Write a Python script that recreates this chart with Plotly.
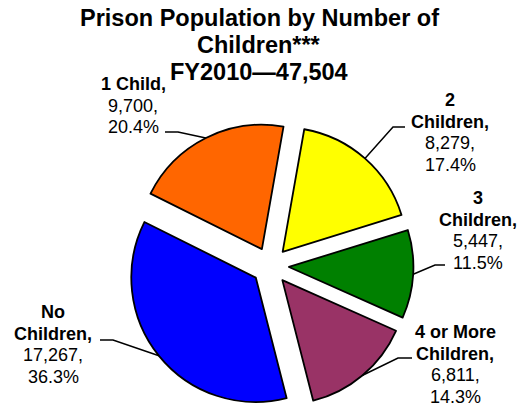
import math
import plotly.graph_objects as go

# Inmates by number of children, FY2010 (clockwise from just right of 12 o'clock)
categories = ["2 Children", "3 Children", "4 or More Children", "No Children", "1 Child"]
counts = [8279, 5447, 6811, 17267, 9700]
colors = ["#FFFF00", "#008000", "#993366", "#0000FF", "#FF6600"]
# Bold part of each label, split into lines
name_lines = [["2", "Children,"], ["3", "Children,"], ["4 or More", "Children,"],
              ["No", "Children,"], ["1 Child,"]]
title_lines = ["Prison Population by Number of", "Children***", "FY2010\u201447,504"]

W, H = 530, 409
ROTATION = 10
PULL = 0.15
DOM_X = [0.22, 0.80]
DOM_Y = [0.0, 0.70]
FONT = "Liberation Sans, Arial, sans-serif"

# Label layout: text centre x, first-line middle y, leader end at label, elbow point
label_layout = [
    dict(x=450, y=100, anchor=(405, 127), elbow=(393, 127)),
    dict(x=478, y=198, anchor=(445, 265), elbow=(435, 265)),
    dict(x=455, y=332, anchor=(412, 358), elbow=(398, 358)),
    dict(x=53, y=312, anchor=(100, 340), elbow=(113, 340)),
    dict(x=133, y=84, anchor=(165, 132), elbow=(178, 132)),
]
LINE_STEP = 21.7

fig = go.Figure(go.Pie(
    labels=categories, values=counts, sort=False, direction="clockwise",
    rotation=ROTATION, pull=[PULL] * len(counts),
    marker=dict(colors=colors, line=dict(color="black", width=1.8)),
    textinfo="none", hoverinfo="label+value+percent", showlegend=False,
    domain=dict(x=DOM_X, y=DOM_Y),
))

# Pie geometry in pixels (same rule plotly uses to size a pulled pie)
box_w = (DOM_X[1] - DOM_X[0]) * W
box_h = (DOM_Y[1] - DOM_Y[0]) * H
r = min(box_w, box_h) / (2 + 2 * PULL)
cx = W * (DOM_X[0] + DOM_X[1]) / 2
cy = H * (1 - DOM_Y[0]) - box_h / 2


def px(x):
    return x / W


def py(y):
    return 1 - y / H


total = sum(counts)
annotations = []
shapes = []
start = ROTATION
for i, v in enumerate(counts):
    span = 360 * v / total
    mid = math.radians(start + span / 2)
    start += span
    ax = cx + r * (1 + PULL) * math.sin(mid)
    ay = cy - r * (1 + PULL) * math.cos(mid)
    lay = label_layout[i]
    (x1, y1), (x2, y2) = lay["anchor"], lay["elbow"]
    shapes.append(dict(
        type="path", xref="paper", yref="paper",
        path=f"M {px(x1)} {py(y1)} L {px(x2)} {py(y2)} L {px(ax)} {py(ay)}",
        line=dict(color="black", width=1.5),
    ))
    lines = [f"<b>{t}</b>" for t in name_lines[i]]
    lines += [f"{v:,},", f"{100 * v / total:.1f}%"]
    for k, t in enumerate(lines):
        annotations.append(dict(
            text=t, x=px(lay["x"]), y=py(lay["y"] + k * LINE_STEP),
            xref="paper", yref="paper", xanchor="center", yanchor="middle",
            showarrow=False, font=dict(family=FONT, size=18, color="black"),
        ))

for k, t in enumerate(title_lines):
    annotations.append(dict(
        text=f"<b>{t}</b>", x=px(259), y=py(18 + k * 27),
        xref="paper", yref="paper", xanchor="center", yanchor="middle",
        showarrow=False, font=dict(family=FONT, size=23.5, color="black"),
    ))

fig.update_layout(
    width=W, height=H, margin=dict(l=0, r=0, t=0, b=0),
    paper_bgcolor="white", plot_bgcolor="white",
    annotations=annotations, shapes=shapes,
)

fig.write_html("out.html")
